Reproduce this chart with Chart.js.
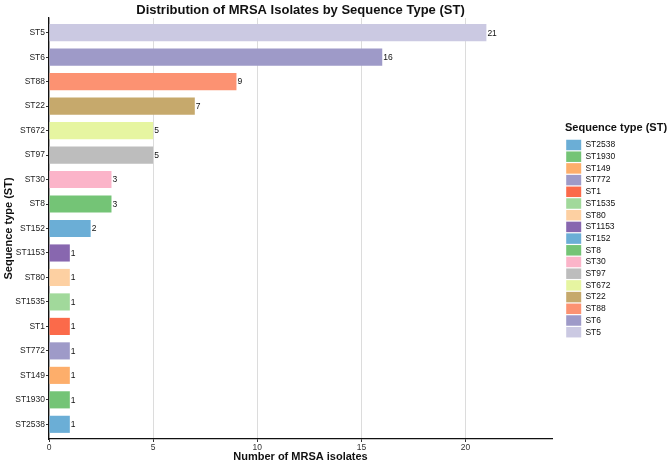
<!DOCTYPE html>
<html><head><meta charset="utf-8">
<script src="https://cdn.jsdelivr.net/npm/chart.js@4/dist/chart.umd.min.js"></script>
<style>html,body{margin:0;padding:0;background:#fff}</style>
</head><body>
<canvas id="c" width="669" height="461"></canvas>
<script>
const categories = ['ST5','ST6','ST88','ST22','ST672','ST97','ST30','ST8','ST152','ST1153','ST80','ST1535','ST1','ST772','ST149','ST1930','ST2538'];
const counts = [21,16,9,7,5,5,3,3,2,1,1,1,1,1,1,1,1];
const barColors = ['#CBC9E2','#9E9AC8','#FC9272','#C6A96C','#E6F5A1','#BDBDBD','#FBB4C9','#74C476','#6BAED6','#8867AF','#FDD0A2','#A1D99B','#FB6A4A','#9E9AC8','#FDAE6B','#74C476','#6BAED6'];
const xTicks = [0,5,10,15,20];
const xMax = 24.15;

const FONT = '"Liberation Sans", Arial, sans-serif';
Chart.defaults.font.family = FONT;
Chart.defaults.color = '#222';

const valueLabels = {
  id: 'valueLabels',
  afterDatasetsDraw(chart) {
    const ctx = chart.ctx;
    const meta = chart.getDatasetMeta(0);
    ctx.save();
    ctx.font = '8.5px ' + FONT;
    ctx.fillStyle = '#111';
    ctx.textAlign = 'left';
    ctx.textBaseline = 'middle';
    meta.data.forEach((el, i) => {
      ctx.fillText(String(counts[i]), el.x + 1, el.y + 0.5);
    });
    ctx.restore();
  }
};

const legendWidth = {
  id: 'legendWidth',
  beforeUpdate(chart) {
    const lg = chart.legend;
    if (lg && !lg._wPatched) {
      const f = lg.fit.bind(lg);
      lg.fit = function () { f(); this.width = 104; };
      lg._wPatched = true;
    }
  }
};

new Chart(document.getElementById('c'), {
  type: 'bar',
  data: {
    datasets: [{
      data: counts.map((v, i) => ({ x: v, y: i })),
      backgroundColor: barColors,
      borderWidth: 0,
      barPercentage: 0.7,
      categoryPercentage: 1.0
    }]
  },
  options: {
    indexAxis: 'y',
    responsive: false,
    animation: false,
    layout: { padding: { left: 0, right: 0, top: 0, bottom: 0 } },
    scales: {
      x: {
        type: 'linear', position: 'bottom', min: 0, max: xMax,
        afterBuildTicks: s => { s.ticks = xTicks.map(v => ({ value: v })); },
        afterFit: s => { s.height = 22; },
        grid: { color: '#dcdcdc', lineWidth: 1, tickLength: 3, tickColor: '#333' },
        border: { color: '#111', width: 1.3 },
        ticks: { font: { size: 8.5 }, color: '#333', padding: 1, maxRotation: 0 },
        title: { display: true, text: 'Number of MRSA isolates', font: { size: 11, weight: 'bold' }, color: '#111', padding: { top: 0, bottom: -3 } }
      },
      xTop: {
        type: 'linear', axis: 'x', position: 'top', min: 0, max: 1,
        afterFit: s => { s.height = 18; },
        grid: { display: false }, border: { display: false },
        ticks: { display: false },
        title: { display: true, text: 'Distribution of MRSA Isolates by Sequence Type (ST)', font: { size: 13, weight: 'bold' }, color: '#111', padding: { top: 3, bottom: 0 } }
      },
      y: {
        type: 'linear', min: -0.6, max: categories.length - 0.4, reverse: true, offset: false,
        afterBuildTicks: s => { s.ticks = categories.map((c, i) => ({ value: i })); },
        afterFit: s => { s.width = 49; },
        grid: { display: true, drawOnChartArea: false, offset: false, color: 'transparent', tickColor: '#333', tickLength: 3 },
        border: { color: '#111', width: 1.3 },
        ticks: { font: { size: 8.5 }, color: '#222', padding: 1, autoSkip: false, callback: v => categories[v] },
        title: { display: true, text: 'Sequence type (ST)', font: { size: 11, weight: 'bold' }, color: '#111', padding: { top: 2, bottom: 0 } }
      },
      yRight: {
        type: 'linear', axis: 'y', position: 'right', min: 0, max: 1,
        afterFit: s => { s.width = 13; },
        grid: { display: false }, border: { display: false },
        ticks: { display: false }
      }
    },
    plugins: {
      tooltip: { enabled: false },
      legend: {
        display: true,
        position: 'right',
        align: 'center',
        title: { display: true, text: 'Sequence type (ST)', position: 'start', font: { size: 11, weight: 'bold' }, color: '#111', padding: { top: 0, bottom: 3 } },
        labels: {
          boxWidth: 15, boxHeight: 10.5, padding: 1.2,
          font: { size: 8.5 }, color: '#222',
          generateLabels: () => categories.map((c, i) => ({
            text: c, fillStyle: barColors[i], strokeStyle: 'rgba(0,0,0,0)', lineWidth: 0, hidden: false, index: i
          })).reverse()
        }
      }
    }
  },
  plugins: [valueLabels, legendWidth]
});
</script>
</body></html>
